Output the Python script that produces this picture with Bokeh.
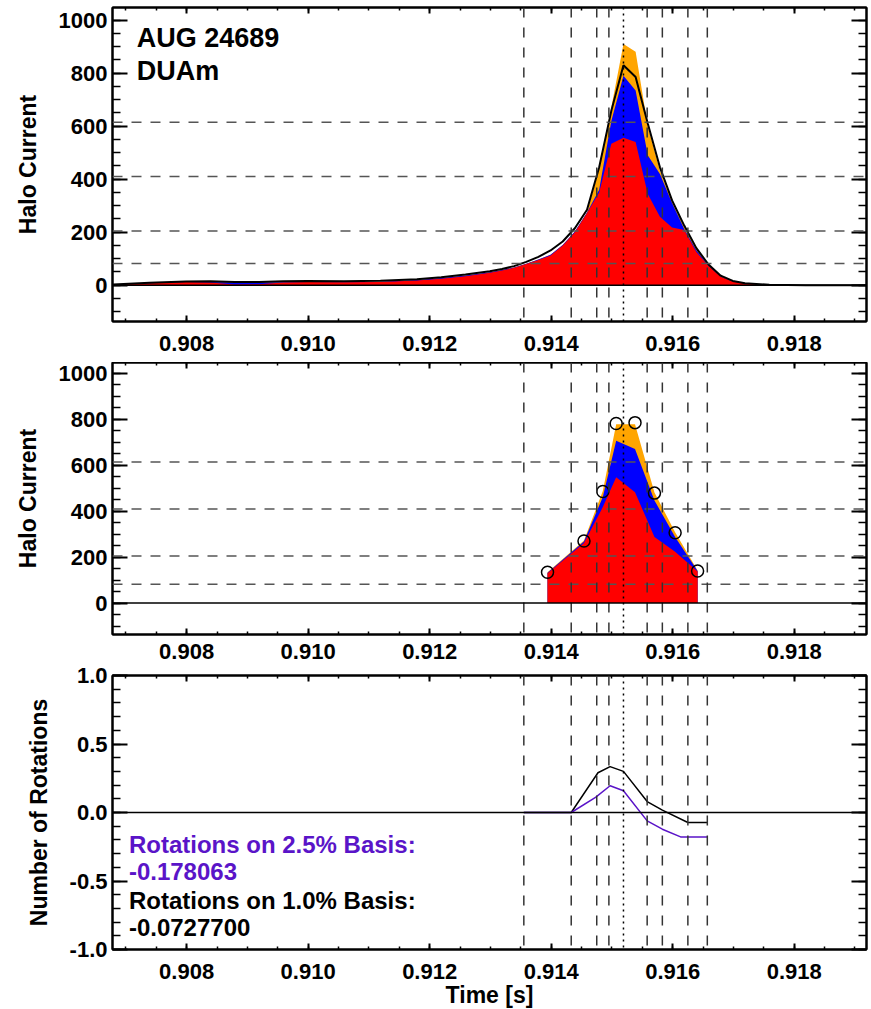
from bokeh.plotting import figure
from bokeh.models import (Span, Label, LinearAxis, SingleIntervalTicker,
                          NumeralTickFormatter, CustomJSTickFormatter, Range1d)
from bokeh.layouts import column
from bokeh.embed import file_html
from bokeh.resources import INLINE

FONT = "Liberation Sans"

# ---------------- data ----------------
time_s = [0.90679, 0.90739, 0.90799, 0.90839, 0.90879, 0.90919, 0.90959, 0.90999, 0.91059, 0.91119,
          0.91179, 0.91219, 0.91259, 0.91299, 0.91319, 0.91339, 0.91359, 0.91379, 0.91399, 0.91419,
          0.91439, 0.91459, 0.91479, 0.91499, 0.91519, 0.91539, 0.91559, 0.91579, 0.91599, 0.91619,
          0.91639, 0.91659, 0.91679, 0.91699, 0.91719, 0.91759, 0.91819, 0.91919]
halo_total = [3, 9, 14, 15, 12, 12, 15, 16, 15, 17,
              22, 30, 40, 53, 61, 72, 88, 107, 131, 165,
              215, 285, 445, 658, 830, 786, 610, 445, 320, 225,
              140, 78, 36, 16, 7, 2, 0, 0]
halo_red = [2, 7, 12, 10, 3, 4, 10, 12, 11, 12,
            18, 24, 34, 47, 55, 66, 80, 95, 112, 150,
            200, 272, 350, 534, 556, 540, 344, 258, 218, 208,
            125, 72, 32, 14, 6, 2, 0, 0]
halo_blue = [2, 7, 12, 12, 10, 10, 11, 12, 11, 13,
             20, 27, 37, 49, 57, 67, 81, 97, 115, 152,
             203, 274, 360, 620, 790, 735, 490, 420, 310, 212,
             132, 74, 33, 14, 6, 2, 0, 0]
halo_orange = [2, 7, 12, 12, 10, 10, 11, 12, 11, 13,
               20, 27, 37, 49, 57, 67, 81, 97, 115, 152,
               203, 274, 440, 672, 910, 881, 600, 432, 315, 220,
               138, 77, 35, 15, 7, 2, 0, 0]

time_mid = [0.91394, 0.91454, 0.91485, 0.91507, 0.91538, 0.91570, 0.91604, 0.91641]
avg_total = [134, 270, 486, 782, 786, 479, 306, 140]
avg_orange = [134, 272, 488, 779, 779, 482, 308, 142]
avg_blue = [132, 268, 462, 707, 671, 447, 288, 140]
avg_red = [130, 262, 418, 548, 483, 288, 223, 137]

time_rot10 = [0.91355, 0.91433, 0.91477, 0.91497, 0.91519, 0.91558, 0.91583, 0.91625, 0.91657]
rot_10 = [0.0, 0.0, 0.29, 0.335, 0.30, 0.08, 0.017, -0.073, -0.073]
time_rot25 = [0.91355, 0.91433, 0.91473, 0.91497, 0.91519, 0.91558, 0.91583, 0.91613, 0.91657]
rot_25 = [0.0, 0.0, 0.11, 0.195, 0.159, -0.061, -0.122, -0.178, -0.178]

threshold_levels = [615, 410, 205, 82]
crossing_times = [0.91355, 0.91433, 0.91475, 0.91495, 0.91558, 0.91583, 0.91625, 0.91657]
peak_time = 0.91519

X_LIM = (0.90678, 0.91919)
HALO_LIM = (-137, 1048)
ROT_LIM = (-1.0, 1.0)
PURPLE = "#5A14C8"


def make_fig(frame_h, ylim, min_top, min_bottom):
    p = figure(frame_width=754, frame_height=frame_h,
               x_range=Range1d(*X_LIM), y_range=Range1d(*ylim),
               x_axis_type=None, y_axis_type=None,
               output_backend="svg", toolbar_location=None,
               min_border_left=112, min_border_right=4,
               min_border_top=min_top, min_border_bottom=min_bottom)
    p.outline_line_color = "black"
    p.outline_line_width = 2
    p.outline_line_alpha = 1
    p.background_fill_color = "white"
    p.border_fill_color = "white"
    return p


def add_axes(p, y_int, y_minor, y_fmt, ylabel, xlabel=None, x_standoff=14):
    xt = SingleIntervalTicker(interval=0.002, num_minor_ticks=4)
    yt = SingleIntervalTicker(interval=y_int, num_minor_ticks=y_minor)
    blank = CustomJSTickFormatter(code="return ''")
    below = LinearAxis(ticker=xt, formatter=NumeralTickFormatter(format="0.000"))
    above = LinearAxis(ticker=xt, formatter=blank)
    left = LinearAxis(ticker=yt, formatter=NumeralTickFormatter(format=y_fmt), axis_label=ylabel)
    right = LinearAxis(ticker=yt, formatter=blank)
    for ax in (below, above):
        ax.major_tick_in = 6
        ax.major_tick_out = 0
        ax.minor_tick_in = 3
        ax.minor_tick_out = 0
    for ax in (left, right):
        ax.major_tick_in = 15
        ax.major_tick_out = 0
        ax.minor_tick_in = 8
        ax.minor_tick_out = 0
    for ax in (below, above, left, right):
        ax.axis_line_width = 2
        ax.major_tick_line_width = 2
        ax.minor_tick_line_width = 1.5
        ax.major_label_text_font = FONT
        ax.major_label_text_font_style = "bold"
        ax.major_label_text_font_size = "22px"
        ax.major_label_text_color = "black"
        ax.axis_label_text_font = FONT
        ax.axis_label_text_font_style = "bold"
        ax.axis_label_text_font_size = "23px"
        ax.axis_label_text_color = "black"
    for ax in (above, right):
        ax.major_label_text_font_size = "0px"
        ax.major_label_standoff = 0
    below.major_label_standoff = x_standoff
    left.major_label_standoff = 5
    left.axis_label_standoff = 15
    if xlabel:
        below.axis_label = xlabel
        below.axis_label_standoff = 0
    p.add_layout(below, "below")
    p.add_layout(above, "above")
    p.add_layout(left, "left")
    p.add_layout(right, "right")


def add_guides(p, with_levels=True):
    if with_levels:
        for lvl in threshold_levels:
            p.add_layout(Span(location=lvl, dimension="width", line_dash="10 9",
                              line_color="#555555", line_width=1.5))
    for t in crossing_times:
        p.add_layout(Span(location=t, dimension="height", line_dash="10 10",
                          line_color="#333333", line_width=1.5))
    p.add_layout(Span(location=peak_time, dimension="height", line_dash="2 4",
                      line_color="black", line_width=1.5))
    p.add_layout(Span(location=0, dimension="width", line_color="black", line_width=1.5))


# ---------------- panel 1 ----------------
p1 = make_fig(314, HALO_LIM, 7, 41)
p1.varea(x=time_s, y1=0, y2=halo_orange, fill_color="#FFA500")
p1.varea(x=time_s, y1=0, y2=halo_blue, fill_color="#0000FF")
p1.varea(x=time_s, y1=0, y2=halo_red, fill_color="#FF0000")
add_guides(p1)
p1.line(x=time_s, y=halo_total, line_color="black", line_width=2)
add_axes(p1, 200, 4, "0", "Halo Current")
for txt, yv in (("AUG 24689", 933), ("DUAm", 808)):
    p1.add_layout(Label(x=0.90718, y=yv, text=txt, text_font=FONT, text_font_style="bold",
                        text_font_size="27px", text_baseline="middle", text_align="left",
                        text_color="black"))

# ---------------- panel 2 ----------------
p2 = make_fig(272, HALO_LIM, 0, 29)
p2.varea(x=time_mid, y1=0, y2=avg_orange, fill_color="#FFA500")
p2.varea(x=time_mid, y1=0, y2=avg_blue, fill_color="#0000FF")
p2.varea(x=time_mid, y1=0, y2=avg_red, fill_color="#FF0000")
add_guides(p2)
p2.scatter(x=time_mid, y=avg_total, size=12, fill_color=None, line_color="black", line_width=1.5)
add_axes(p2, 200, 4, "0", "Halo Current", x_standoff=9)

# ---------------- panel 3 ----------------
p3 = make_fig(274, ROT_LIM, 12, 56)
add_guides(p3, with_levels=False)
p3.line(x=time_rot10, y=rot_10, line_color="black", line_width=1.5)
p3.line(x=time_rot25, y=rot_25, line_color=PURPLE, line_width=1.5)
add_axes(p3, 0.5, 5, "0.0", "Number of Rotations", xlabel="Time [s]")
notes = [("Rotations on 2.5% Basis:", -0.236, PURPLE),
         ("-0.178063", -0.432, PURPLE),
         ("Rotations on 1.0% Basis:", -0.639, "black"),
         ("-0.0727700", -0.842, "black")]
for txt, yv, col in notes:
    p3.add_layout(Label(x=0.90705, y=yv, text=txt, text_font=FONT, text_font_style="bold",
                        text_font_size="24px", text_baseline="middle", text_align="left",
                        text_color=col))

layout = column(p1, p2, p3, spacing=0)
open("out.html", "w").write(file_html(layout, INLINE))
